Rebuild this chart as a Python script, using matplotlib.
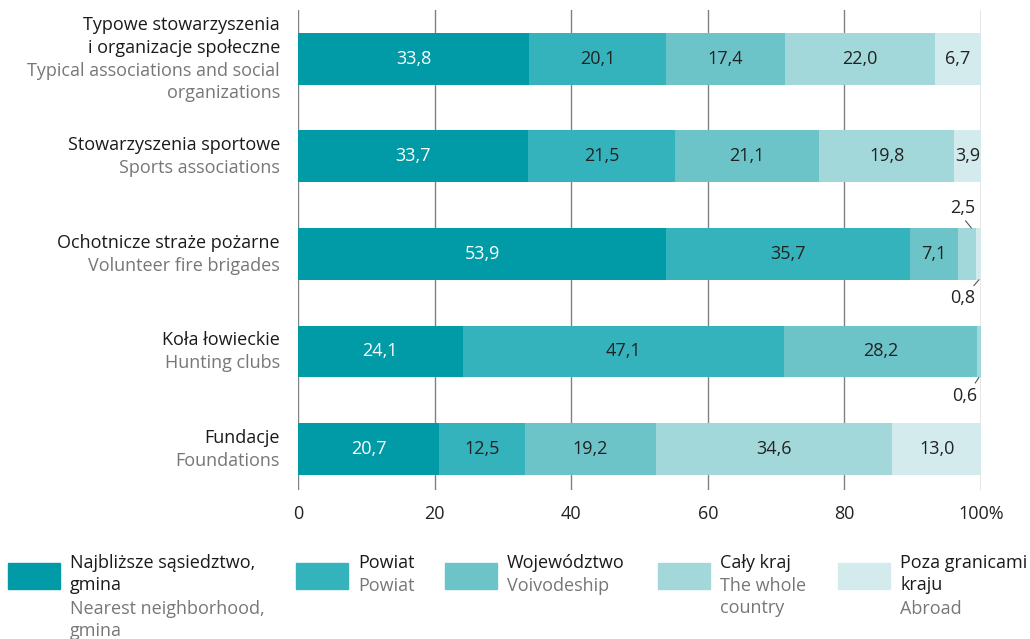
import numpy as np
import matplotlib.pyplot as plt
from matplotlib.patches import Rectangle

plt.rcParams['font.family'] = ['Open Sans', 'DejaVu Sans']

# data
cats_pl = ["Typowe stowarzyszenia\ni organizacje społeczne", "Stowarzyszenia sportowe",
           "Ochotnicze straże pożarne", "Koła łowieckie", "Fundacje"]
cats_en = ["Typical associations and social\norganizations", "Sports associations",
           "Volunteer fire brigades", "Hunting clubs", "Foundations"]
nearest = [33.8, 33.7, 53.9, 24.1, 20.7]
powiat = [20.1, 21.5, 35.7, 47.1, 12.5]
voiv = [17.4, 21.1, 7.1, 28.2, 19.2]
country = [22.0, 19.8, 2.5, 0.6, 34.6]
abroad = [6.7, 3.9, 0.8, 0.0, 13.0]
series = [nearest, powiat, voiv, country, abroad]
leg_pl = ["Najbliższe sąsiedztwo,\ngmina", "Powiat", "Województwo", "Cały kraj", "Poza granicami\nkraju"]
leg_en = ["Nearest neighborhood,\ngmina", "Powiat", "Voivodeship", "The whole\ncountry", "Abroad"]
colors = ["#009ba6", "#35b3bc", "#6cc4c8", "#a3d8db", "#d3ebec"]
ticks = [0, 20, 40, 60, 80, 100]
tick_labels = ["0", "20", "40", "60", "80", "100%"]

W, H = 1030, 639
fs = 13
ls = 1.3
fig = plt.figure(figsize=(W / 100, H / 100), dpi=100)
ax = fig.add_axes([298 / W, 1 - 490 / H, 683 / W, 480 / H])

y = np.arange(len(cats_pl))
left = np.zeros(len(y))
bh = 0.53
for k, vals in enumerate(series):
    vals = np.array(vals)
    ax.barh(y, vals, left=left, height=bh, color=colors[k], zorder=2)
    for i, v in enumerate(vals):
        if v >= 3.5:
            ax.text(left[i] + v / 2, y[i], f"{v:.1f}".replace(".", ","),
                    ha="center", va="center", fontsize=fs,
                    color="white" if k == 0 else "#222222", zorder=3)
    left += vals

# small-value callouts
lc = "#555555"
i = 2
ax.annotate(f"{country[i]:.1f}".replace(".", ","), xy=(98.6, y[i] - bh / 2),
            xytext=(-6.5, 8), textcoords="offset points", ha="center", va="bottom",
            fontsize=fs, color="#222222",
            arrowprops=dict(arrowstyle="-", color=lc, lw=0.8, relpos=(0.5, 0), shrinkA=1, shrinkB=0))
ax.annotate(f"{abroad[i]:.1f}".replace(".", ","), xy=(99.7, y[i] + bh / 2),
            xytext=(-11.5, -7), textcoords="offset points", ha="center", va="top",
            fontsize=fs, color="#222222",
            arrowprops=dict(arrowstyle="-", color=lc, lw=0.8, relpos=(0.8, 1), shrinkA=1, shrinkB=0))
i = 3
ax.annotate(f"{country[i]:.1f}".replace(".", ","), xy=(99.7, y[i] + bh / 2),
            xytext=(-10, -7), textcoords="offset points", ha="center", va="top",
            fontsize=fs, color="#222222",
            arrowprops=dict(arrowstyle="-", color=lc, lw=0.8, relpos=(0.8, 1), shrinkA=1, shrinkB=0))

ax.set_xlim(0, 100)
ax.set_ylim(4.42, -0.5)
ax.set_xticks(ticks)
ax.set_xticklabels(tick_labels, fontsize=fs, color="#222222")
ax.set_yticks([])
ax.tick_params(axis="x", length=0, pad=11)
for s in ax.spines.values():
    s.set_visible(False)
ax.grid(axis="x", color="#808080", lw=1, zorder=1)
ax.axvline(0, color="#666666", lw=1.2, zorder=1)

# category labels
for i in range(len(y)):
    ax.annotate(cats_pl[i], xy=(0, y[i]), xytext=(-13, 1.5), textcoords="offset points",
                ha="right", va="bottom", fontsize=fs, color="#1a1a1a", linespacing=ls)
    ax.annotate(cats_en[i], xy=(0, y[i]), xytext=(-13, -2), textcoords="offset points",
                ha="right", va="top", fontsize=fs, color="#777777", linespacing=ls)

# legend
px = [8, 296, 445, 658, 838]
for k in range(5):
    fig.patches.append(Rectangle((px[k] / W, 1 - 589 / H), 52 / W, 26 / H,
                                 transform=fig.transFigure, color=colors[k]))
    n = leg_pl[k].count("\n") + 1
    fig.text((px[k] + 62) / W, 1 - 554 / H, leg_pl[k], ha="left", va="top",
             fontsize=fs, color="#1a1a1a", linespacing=ls)
    fig.text((px[k] + 62) / W, 1 - (554 + 23 * n) / H, leg_en[k], ha="left", va="top",
             fontsize=fs, color="#777777", linespacing=ls)

fig.savefig("out.png", dpi=100)
